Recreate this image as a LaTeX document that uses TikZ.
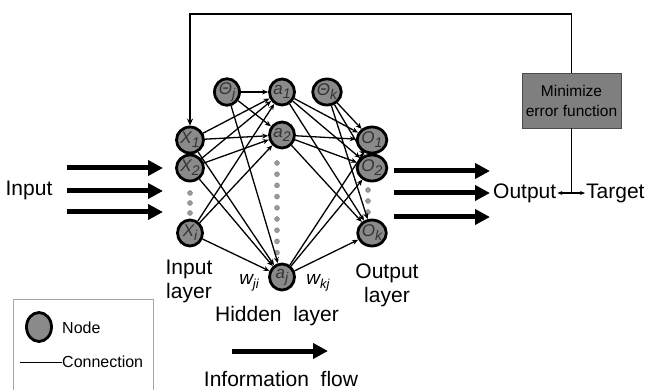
\documentclass[tikz,border=0pt]{standalone}
\usepackage{fontspec}
\setmainfont{Liberation Sans}
\usetikzlibrary{arrows.meta,shapes.geometric}

\definecolor{nodegray}{HTML}{8A8A8A}
\definecolor{boxgray}{HTML}{7F7F7F}
\definecolor{dotgray}{HTML}{9A9A9A}

% subscripted node label
\newcommand\nlab[2]{#1\raisebox{-4pt}{\fontsize{14}{14}\selectfont #2}}

\begin{document}
\begin{tikzpicture}[x=1pt,y=-1pt,
  neuron/.style={ellipse,draw=black,line width=2.8pt,fill=nodegray,
    minimum width=25pt,minimum height=26pt,inner sep=0pt,
    font=\fontsize{17}{17}\selectfont\itshape,text=black!80},
  link/.style={line width=1.3pt,-{Stealth[length=6pt,width=5pt]}},
  flow/.style={line width=5pt,-{Triangle[length=15pt,width=15pt]}},
  bigtext/.style={font=\fontsize{21}{24}\selectfont,inner sep=0pt,align=center},
  wtext/.style={font=\fontsize{19}{19}\selectfont\itshape,inner sep=0pt},
  errbox/.style={draw=black!70,line width=0.8pt,fill=boxgray,minimum width=99pt,
    minimum height=55pt,align=center,inner sep=0pt,
    font=\fontsize{15.5}{20}\selectfont},
  hdot/.style={circle,fill=dotgray,draw=gray,line width=0.4pt,minimum size=5pt,inner sep=0pt}
]
\useasboundingbox (0,0) rectangle (645,390);
\clip (0,0) rectangle (645,390);

% input layer
\node[neuron] (x1) at (190,140) {\nlab{X}{1}};
\node[neuron] (x2) at (190,168) {\nlab{X}{2}};
\node[neuron] (xi) at (190,233) {\nlab{X}{i}};
\foreach \y [count=\n] in {193,203,213} \node[hdot] (xd\n) at (190,\y) {};

% hidden layer
\node[neuron] (thj) at (227,92) {\nlab{Θ}{j}};
\node[neuron] (a1) at (282,92) {\nlab{a}{1}};
\node[neuron] (a2) at (282,135) {\nlab{a}{2}};
\node[neuron] (aj) at (282,277) {\nlab{a}{j}};
\foreach \y [count=\n] in {163,174.2,185.4,196.6,207.8,219,230.2,241.4,252.6}
  \node[hdot] (ad\n) at (277,\y) {};

% output layer
\node[neuron] (thk) at (327,92) {\nlab{Θ}{k}};
\node[neuron] (o1) at (372,140) {\nlab{O}{1}};
\node[neuron] (o2) at (372,168) {\nlab{O}{2}};
\node[neuron] (ok) at (372,233) {\nlab{O}{k}};
\foreach \y [count=\n] in {190,201,212} \node[hdot] (od\n) at (368,\y) {};

% weighted connections
\foreach \s in {x1,x2,xi,thj}
  \foreach \t in {a1,a2,aj}
    \draw[link] (\s) -- (\t);
\foreach \s in {a1,a2,aj,thk}
  \foreach \t in {o1,o2,ok}
    \draw[link] (\s) -- (\t);

% input and output flow arrows
\foreach \y [count=\n] in {168,191,212} {
  \coordinate (ins\n) at (67,\y);
  \coordinate (ine\n) at (163,\y);
  \draw[flow] (ins\n) -- (ine\n);
}
\foreach \y [count=\n] in {171,193,217} {
  \coordinate (outs\n) at (394,\y);
  \coordinate (oute\n) at (490,\y);
  \draw[flow] (outs\n) -- (oute\n);
}

% labels
\node[bigtext] (inlbl) at (29,190) {Input};
\node[bigtext] (inlayer) at (189,281) {Input\\layer};
\node[bigtext] (outlayer) at (387,285) {Output\\layer};
\node[bigtext] (hidlbl) at (277,316) {Hidden\ \ layer};
\node[wtext] (wji) at (249,283) {w\raisebox{-4pt}{\fontsize{13}{13}\selectfont ji}};
\node[wtext] (wkj) at (318,283) {w\raisebox{-4pt}{\fontsize{13}{13}\selectfont kj}};

% output vs target comparison and feedback loop
\node[bigtext,anchor=west] (outtxt) at (493,193) {Output};
\node[bigtext,anchor=west] (tgt) at (586,193) {Target};
\node[errbox] (err) at (571.5,100.5) {Minimize\\error function};
\coordinate (cmp) at (571.5,193);
\draw[line width=1.1pt,{Stealth[length=5pt,width=4pt]}-{Stealth[length=5pt,width=4pt]}]
  ([xshift=1pt]outtxt.east) -- ([xshift=-1pt]tgt.west);
\draw[line width=1.1pt] (err.south) -- (cmp);
\coordinate (fbr) at (571.5,14);
\coordinate (fbl) at (190,14);
\draw[line width=1.4pt,-{Stealth[length=7pt,width=6pt]}] (err.north) -- (fbr) -- (fbl) -- (x1);

% legend
\draw[gray!70,line width=0.8pt] (13,299) rectangle (153,400);
\node[neuron,minimum width=25pt,minimum height=29pt] (lgnode) at (39,327) {};
\node[font=\fontsize{16}{16}\selectfont,anchor=west,inner sep=0pt] (lgnodetxt) at (62,328) {Node};
\coordinate (lgl) at (20,362);
\node[font=\fontsize{16}{16}\selectfont,anchor=west,inner sep=0pt] (lgcon) at (62,362) {Connection};
\draw[line width=1pt] (lgl) -- (lgcon.west);

% information flow
\coordinate (ifs) at (232,351);
\coordinate (ife) at (328,351);
\draw[flow] (ifs) -- (ife);
\node[bigtext] (iflbl) at (281,378.5) {Information\ \ flow};
\end{tikzpicture}
\end{document}
